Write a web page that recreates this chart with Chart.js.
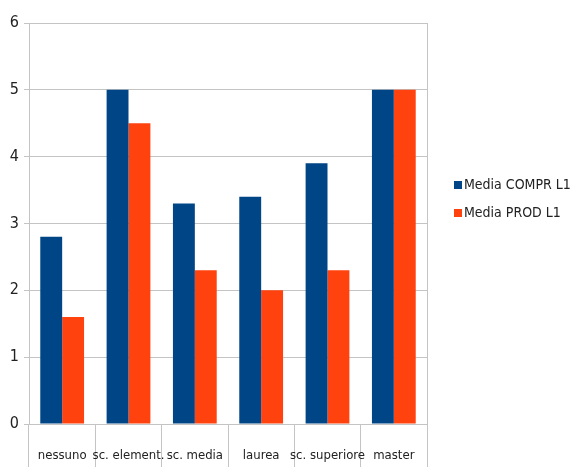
<!DOCTYPE html>
<html>
<head>
<meta charset="utf-8">
<script src="https://cdn.jsdelivr.net/npm/chart.js@4/dist/chart.umd.min.js"></script>
<style>
  html, body { margin: 0; padding: 0; background: #fff; }
  #wrap { width: 574px; height: 467px; }
</style>
</head>
<body>
<div id="wrap"><canvas id="chart" width="574" height="467"></canvas></div>
<script>
const categories = ['nessuno', 'sc. element.', 'sc. media', 'laurea', 'sc. superiore', 'master'];
const comprValues = [2.8, 5, 3.3, 3.4, 3.9, 5];
const prodValues = [1.6, 4.5, 2.3, 2.0, 2.3, 5];
const yTicks = [0, 1, 2, 3, 4, 5, 6];

const FONT = '"Liberation Sans Narrow", "DejaVu Sans Condensed", "Liberation Sans", sans-serif';
const GRID = '#c4c4c4';

// legend drawn by hand to the right of the plot, like the original
const sideLegend = {
  id: 'sideLegend',
  afterDraw(chart) {
    const ctx = chart.ctx;
    const x = chart.chartArea.right + 27;
    let y = 185;
    ctx.save();
    ctx.font = '14px ' + FONT;
    ctx.textBaseline = 'middle';
    chart.data.datasets.forEach(ds => {
      ctx.fillStyle = ds.backgroundColor;
      ctx.fillRect(x, y - 4, 8, 8);
      ctx.fillStyle = '#222';
      ctx.fillText(ds.label, x + 10, y);
      y += 28;
    });
    ctx.restore();
  }
};

new Chart(document.getElementById('chart').getContext('2d'), {
  type: 'bar',
  data: {
    labels: categories,
    datasets: [
      { label: 'Media COMPR L1', data: comprValues, backgroundColor: '#004586' },
      { label: 'Media PROD L1', data: prodValues, backgroundColor: '#ff420e' }
    ]
  },
  options: {
    responsive: false,
    animation: false,
    layout: { padding: { top: 23, right: 147, left: 0, bottom: 0 } },
    categoryPercentage: 0.66,
    barPercentage: 1.0,
    plugins: { legend: { display: false }, tooltip: { enabled: false } },
    scales: {
      x: {
        grid: {
          offset: true,
          drawOnChartArea: true,
          color: c => c.type === 'tick' ? 'rgba(0,0,0,0)' : GRID,
          tickColor: GRID,
          tickLength: 43
        },
        border: { color: GRID },
        ticks: { color: '#222', font: { family: FONT, size: 13 }, padding: -19, maxRotation: 0, autoSkip: false },
        afterFit: s => { s.height = 43; }
      },
      y: {
        min: 0,
        max: 6,
        afterBuildTicks: s => { s.ticks = yTicks.map(v => ({ value: v })); },
        grid: { color: GRID, tickLength: 5 },
        border: { color: GRID },
        ticks: { color: '#222', font: { family: FONT, size: 16 }, padding: 5 },
        afterFit: s => { s.width = 29; }
      }
    }
  },
  plugins: [sideLegend]
});
</script>
</body>
</html>
